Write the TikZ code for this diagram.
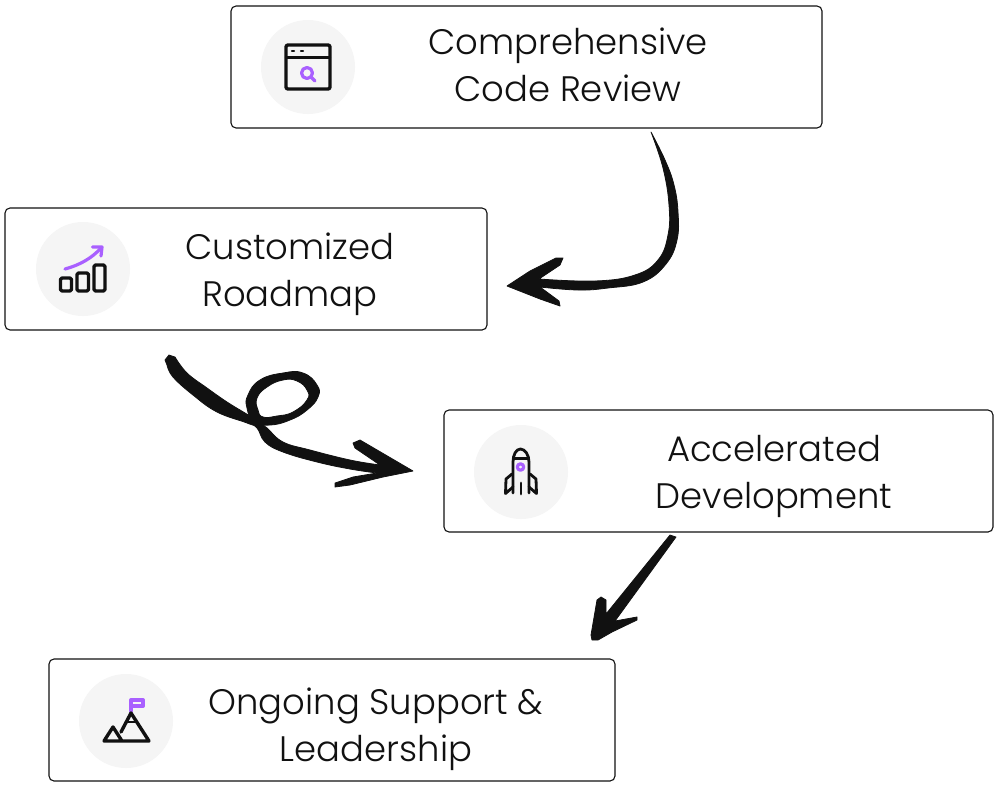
\documentclass[tikz,border=0pt]{standalone}
\usepackage{fontspec}
\setmainfont{Poppins Light}
\definecolor{ink}{HTML}{111111}
\definecolor{violet}{HTML}{A960FF}
\definecolor{disc}{HTML}{F5F5F5}
\tikzset{
  card/.style={draw=ink,line width=1.1pt,rounded corners=5pt,fill=white,inner sep=0pt},
  caption/.style={align=center,inner sep=0pt,text=ink,font=\fontsize{35.4}{47}\selectfont},
  badge/.style={circle,fill=disc,inner sep=0pt,minimum size=94pt},
  glyph/.style={draw=ink,line width=3.4pt,line join=round,line cap=round},
  accent/.style={draw=violet,line width=3.2pt,line join=round,line cap=round},
  stroke/.style={fill=ink,draw=ink,line width=.8pt,line join=round},
}
\begin{document}
\begin{tikzpicture}[x=1pt,y=-1pt]
\useasboundingbox (0,0) rectangle (1000,787);

% cards
\node[card,minimum width=591pt,minimum height=122pt] (review) at (526.5,67) {};
\node[card,minimum width=482pt,minimum height=122pt] (roadmap) at (246,269) {};
\node[card,minimum width=549pt,minimum height=122pt] (develop) at (718.5,471) {};
\node[card,minimum width=566pt,minimum height=122pt] (support) at (332,720) {};

% captions
\node[caption] (reviewtext) at (568,64.5) {Comprehensive\\Code Review};
\node[caption] (roadmaptext) at (290,274.5) {Customized\\Roadmap};
\node[caption] (developtext) at (774,476) {Accelerated\\Development};
\node[caption] (supporttext) at (376,729) {Ongoing Support \&\\Leadership};

% badges
\node[badge] (b1) at (308,67) {};
\node[badge] (b2) at (83,269) {};
\node[badge] (b3) at (521,472) {};
\node[badge] (b4) at (126,721) {};

% browser window with magnifier
\draw[glyph,rounded corners=2pt] (286,45) rectangle (330,89);
\draw[glyph,line width=2.2pt] (286,57.5) -- (330,57.5);
\draw[glyph,line width=2.4pt] (292,51) -- (294,51) (301,51) -- (303,51);
\draw[accent] (307,73) circle (5.5pt);
\draw[accent] (311,77) -- (315,81);

% bar chart with rising arrow
\draw[glyph,rounded corners=1.5pt] (60.5,278) rectangle (71.5,291);
\draw[glyph,rounded corners=1.5pt] (77,273) rectangle (88.5,291);
\draw[glyph,rounded corners=1.5pt] (94,265) rectangle (105,291);
\draw[accent] (65,269) .. controls (80,265) and (92,258) .. (101,248);
\draw[accent] (92.5,247) -- (102,247) -- (101,256);

% rocket
\draw[glyph,line width=2.8pt] (513,493) -- (513,462) .. controls (513,455) and (516,449) .. (520.5,449) .. controls (525,449) and (529,455) .. (529,462) -- (529,493);
\draw[glyph,line width=2.4pt] (514,458.5) -- (528,458.5);
\draw[glyph,line width=2.8pt] (512,474) -- (506,479) -- (505.5,493.5) -- (513,487);
\draw[glyph,line width=2.8pt] (530,474) -- (536,479) -- (536.5,493.5) -- (529,487);
\draw[glyph,line width=2.8pt] (521,483) -- (521,494);
\draw[accent] (520.5,467) circle (3.2pt);

% mountains with flag
\draw[accent,line width=4pt] (131,711) -- (131,700) -- (143,700) -- (143,706) -- (131,706);
\draw[glyph] (121,732) -- (131,713) -- (149,741) -- (104,741) -- (113,727) -- (122,741);
\draw[glyph,line width=2pt] (126,721.5) -- (137,721.5);

% hand-drawn connectors
\coordinate (c1start) at (651,132);
\coordinate (c1tip) at (507,286);
\coordinate (c2start) at (165,360);
\coordinate (c2tip) at (413,471);
\coordinate (c3start) at (676,537);
\coordinate (c3tip) at (592,640);

\fill[stroke] (c1start)
  -- plot[smooth,tension=.7] coordinates {(c1start) (665,160) (674,185) (678,212) (677,240) (666,264) (643,282) (608,288) (578,290) (540,287)}
  -- (559,301) -- (560,306) -- (540,299) -- (c1tip) -- (530,271) -- (556,258) -- (563,258) -- (560,265) -- (539,279)
  -- plot[smooth,tension=.7] coordinates {(539,279) (595,281) (635,275) (658,260) (668,235) (669,205) (663,168) (c1start)}
  -- cycle;

\fill[stroke] (c2start) -- (169,355)
  -- plot[smooth,tension=.7] coordinates {(175,357) (187,373) (207,388) (227,402) (245,413) (258,421) (267,428) (283,442) (310,450) (350,460) (380,465)}
  -- (355,448) -- (353,443) -- (360,440) -- (c2tip) -- (383,477) -- (350,485) -- (335,487) -- (335,483) -- (353,477) -- (377,473)
  -- plot[smooth,tension=.7] coordinates {(377,473) (350,469) (317,462) (283,452) (265,442) (257,428) (247,423) (217,412) (193,395) (173,377) (167,365)}
  -- cycle;

\fill[stroke,even odd rule]
  plot[smooth cycle,tension=.8] coordinates {(247,408) (248,395) (260,380) (283,373) (303,373) (317,385) (318,397) (307,410) (290,420) (270,425) (254,422)}
  plot[smooth cycle,tension=.8] coordinates {(258,410) (257,398) (267,387) (283,380) (297,381) (307,390) (307,400) (293,412) (277,416) (263,417)};

\fill[stroke] (c3start) -- (670,535) -- (606,614) -- (606,600) -- (601,597) -- (597,600) -- (591,635) -- (c3tip) -- (598,640) -- (612,632) -- (637,620) -- (637,617) -- (615,621) -- cycle;
\end{tikzpicture}
\end{document}
